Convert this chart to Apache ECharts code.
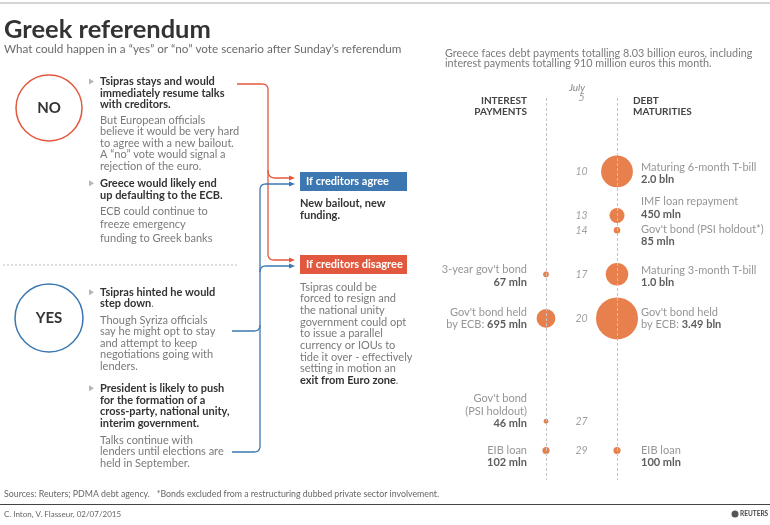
<!DOCTYPE html>
<html><head><meta charset="utf-8">
<script src="https://cdn.jsdelivr.net/npm/echarts@6/dist/echarts.min.js"></script>
<style>html,body{margin:0;padding:0;background:#fff}#c{width:770px;height:525px}</style>
</head><body><div id="c"></div>
<script>
// ---- data ----
const dayTicks = [5, 10, 13, 14, 17, 20, 27, 29];
const interestDays = [17, 20, 27, 29];
const interestValues = [67, 695, 46, 102]; // million euros
const interestDesc = ["3-year gov't bond", "Gov't bond held", "Gov't bond\n(PSI holdout)", "EIB loan"];
const interestPrefix = ["", "by ECB: ", "", ""];
const interestAmount = ["67 mln", "695 mln", "46 mln", "102 mln"];
const maturityDays = [10, 13, 14, 17, 20, 29];
const maturityValues = [2000, 450, 85, 1000, 3490, 100]; // million euros
const maturityDesc = ["Maturing 6-month T-bill", "IMF loan repayment", "Gov't bond (PSI holdout*)", "Maturing 3-month T-bill", "Gov't bond held", "EIB loan"];
const maturityPrefix = ["", "", "", "", "by ECB: ", ""];
const maturityAmount = ["2.0 bln", "450 mln", "85 mln", "1.0 bln", "3.49 bln", "100 mln"];

// ---- layout / style ----
const F = 'Lato';
const DARK = '#333', GREY = '#7a7a7a', RED = '#e2583e', BLUE = '#3c77b1', BUB = '#e8804e';
const interestDy = [1.5, 0, -10, 6];
const maturityDy = [2, -7.5, 5, 2, 0, 6];
const maxV = Math.max(...maturityValues, ...interestValues);
const sizeOf = v => 42 * Math.sqrt(v / maxV);

const G = [];
function txt(x, y, s, o) {
  o = o || {};
  G.push({type: 'text', x: x, y: y, silent: true,
    style: {text: s, fill: o.fill || GREY, font: (o.w || 'normal') + ' ' + (o.size || 11) + 'px ' + F,
      align: o.align || 'left', verticalAlign: 'middle', rich: o.rich}});
}
function lines(x, y0, lh, arr, o) { arr.forEach((s, i) => txt(x, y0 + i * lh, s, o)); }
function bullet(y) { G.push({type: 'polygon', silent: true, shape: {points: [[89, y - 3], [94, y], [89, y + 3]]}, style: {fill: '#b5b5b5'}}); }
const richB = {b: {font: 'bold 11px ' + F, fill: DARK}, n: {font: 'normal 11px ' + F, fill: DARK}, g: {font: 'normal 11px ' + F, fill: GREY}};
// polyline with rounded corners: cmds = [[x,y], ['Q',cx,cy,x,y], ...]
function curve(cmds, color) {
  const pts = [];
  let cur = null;
  cmds.forEach(c => {
    if (c[0] === 'Q') {
      for (let t = 0.125; t <= 1.0001; t += 0.125) {
        const a = (1 - t) * (1 - t), b = 2 * (1 - t) * t, d = t * t;
        pts.push([a * cur[0] + b * c[1] + d * c[3], a * cur[1] + b * c[2] + d * c[4]]);
      }
      cur = [c[3], c[4]];
    } else { pts.push(c); cur = c; }
  });
  G.push({type: 'polyline', silent: true, shape: {points: pts}, style: {stroke: color, lineWidth: 1.3, fill: null}});
}

// header
G.push({type: 'line', silent: true, shape: {x1: 0, y1: 3, x2: 770, y2: 3}, style: {stroke: '#aaa', lineWidth: 1}});
txt(4, 30, 'Greek referendum', {w: 'bold', size: 25.5, fill: DARK});
txt(4, 49.5, 'What could happen in a \u201cyes\u201d or \u201cno\u201d vote scenario after Sunday\u2019s referendum', {size: 11.7, fill: '#6a6a6a'});
lines(445, 53.5, 10.2, ['Greece faces debt payments totalling 8.03 billion euros, including', 'interest payments totalling 910 million euros this month.'], {size: 10.8, fill: '#7a7a7a'});
lines(527, 101, 11, ['INTEREST', 'PAYMENTS'], {w: 'bold', size: 10, fill: '#444', align: 'right'});
lines(633, 101, 11, ['DEBT', 'MATURITIES'], {w: 'bold', size: 10, fill: '#444'});
txt(577, 88, 'July', {w: 'italic', size: 10, fill: '#888', align: 'center'});

// NO / YES circles
G.push({type: 'circle', silent: true, shape: {cx: 49, cy: 108, r: 33}, style: {fill: '#fff', stroke: RED, lineWidth: 1.5}});
txt(49, 108, 'NO', {w: 'bold', size: 15, fill: DARK, align: 'center'});
G.push({type: 'circle', silent: true, shape: {cx: 49, cy: 318, r: 34}, style: {fill: '#fff', stroke: BLUE, lineWidth: 1.5}});
txt(49, 318, 'YES', {w: 'bold', size: 15, fill: DARK, align: 'center'});

// NO text
bullet(81.5);
lines(100, 81.5, 11.6, ['Tsipras stays and would', 'immediately resume talks', 'with creditors.'], {w: 'bold', fill: DARK});
lines(100, 120, 11.5, ['But European officials', 'believe it would be very hard', 'to agree with a new bailout.', 'A \u201cno\u201d vote would signal a', 'rejection of the euro.']);
bullet(183.3);
lines(100, 183.3, 11.7, ['Greece would likely end', 'up defaulting to the ECB.'], {w: 'bold', fill: DARK});
lines(100, 211.7, 13.2, ['ECB could continue to', 'freeze emergency', 'funding to Greek banks']);
G.push({type: 'line', silent: true, shape: {x1: 3, y1: 265, x2: 237, y2: 265}, style: {stroke: '#bbb', lineWidth: 1, lineDash: [2, 2]}});

// YES text
bullet(292.3);
txt(100, 292.3, 'Tsipras hinted he would', {w: 'bold', fill: DARK});
txt(100, 303.5, '{b|step down}{g|.}', {rich: richB});
lines(100, 320, 11.6, ['Though Syriza officials', 'say he might opt to stay', 'and attempt to keep', 'negotiations going with', 'lenders.']);
bullet(388.3);
lines(100, 388.3, 11.7, ['President is likely to push', 'for the formation of a', 'cross-party, national unity,', 'interim government.'], {w: 'bold', fill: DARK});
lines(100, 440, 11.7, ['Talks continue with', 'lenders until elections are', 'held in September.']);

// connectors
curve([[237, 84], [262, 84], ['Q', 268, 84, 268, 90], [268, 254], ['Q', 268, 260, 274, 260], [291, 260]], RED);
curve([[268, 170], ['Q', 268, 178, 275, 178], [291, 178]], RED);
curve([[232, 452], [254, 452], ['Q', 260, 452, 260, 446], [260, 190], ['Q', 260, 184, 266, 184], [291, 184]], BLUE);
curve([[260, 272], ['Q', 260, 266, 266, 266], [291, 266]], BLUE);
curve([[232, 331], [254, 331], ['Q', 260, 331, 260, 325]], BLUE);
function arrow(y, c) { G.push({type: 'polygon', silent: true, shape: {points: [[289, y - 2.5], [295, y], [289, y + 2.5]]}, style: {fill: c}}); }
arrow(178, RED); arrow(260, RED); arrow(184, BLUE); arrow(266, BLUE);

// boxes
G.push({type: 'rect', silent: true, shape: {x: 300, y: 172, width: 107, height: 19}, style: {fill: BLUE}});
txt(306, 181.5, 'If creditors agree', {w: 'bold', fill: '#fff'});
G.push({type: 'rect', silent: true, shape: {x: 300, y: 255, width: 107, height: 19}, style: {fill: RED}});
txt(306, 264.5, 'If creditors disagree', {w: 'bold', fill: '#fff'});
lines(300, 203.3, 11.7, ['New bailout, new', 'funding.'], {w: 'bold', fill: DARK});
lines(300, 287.3, 11.65, ['Tsipras could be', 'forced to resign and', 'the national unity', 'government could opt', 'to issue a parallel', 'currency or IOUs to', 'tide it over - effectively', 'setting in motion an']);
txt(300, 380.5, '{b|exit from Euro zone}{g|.}', {rich: richB});

// footer
txt(4, 494, 'Sources: Reuters; PDMA debt agency.   *Bonds excluded from a restructuring dubbed private sector involvement.', {size: 8.8, fill: '#666'});
G.push({type: 'line', silent: true, shape: {x1: 0, y1: 504.5, x2: 770, y2: 504.5}, style: {stroke: '#444', lineWidth: 1.2}});
txt(4, 514, 'C. Inton, V. Flasseur, 02/07/2015', {size: 8, fill: '#666'});
G.push({type: 'circle', silent: true, shape: {cx: 735, cy: 514, r: 3.5}, style: {fill: '#555'}});
txt(740, 514, 'REUTERS', {w: 'bold', size: 6.5, fill: '#444'});

// ---- chart ----
function richLabel(desc, prefix, amount) {
  const d = desc.split('\n').map(s => '{n|' + s + '}').join('\n');
  return d + '\n' + (prefix ? '{n|' + prefix + '}' : '') + '{b|' + amount + '}';
}
const labRich = {n: {fontFamily: F, fontSize: 11, color: GREY, lineHeight: 12.5}, b: {fontFamily: F, fontSize: 11, fontWeight: 'bold', color: DARK, lineHeight: 12.5}};

const option = {
  backgroundColor: '#fff',
  animation: false,
  grid: {left: 510.5, width: 142, top: 98, height: 382},
  xAxis: {type: 'value', min: 0.5, max: 2.5, show: false},
  yAxis: {type: 'value', min: 5, max: 31, inverse: true, show: false},
  graphic: G,
  series: [
    {type: 'scatter', silent: true, z: 1, symbolSize: 0,
      data: dayTicks.map(d => [1.5, d]),
      label: {show: true, position: 'inside', formatter: p => String(p.value[1]), fontFamily: F, fontStyle: 'italic', fontSize: 10.5, color: '#888'},
      markLine: {silent: true, symbol: 'none', label: {show: false}, lineStyle: {color: '#c4c4c4', type: [3, 2], width: 1},
        data: [{xAxis: 1}, {xAxis: 2}]}},
    {type: 'scatter', name: 'Interest payments', silent: true, z: 3,
      data: interestDays.map((d, i) => [1, d, interestValues[i]]),
      symbolSize: v => sizeOf(v[2]), itemStyle: {color: BUB, opacity: 1}},
    {type: 'scatter', name: 'Debt maturities', silent: true, z: 3,
      data: maturityDays.map((d, i) => [2, d, maturityValues[i]]),
      symbolSize: v => sizeOf(v[2]), itemStyle: {color: BUB, opacity: 1}},
    {type: 'scatter', silent: true, z: 4, symbolSize: 0,
      data: interestDays.map((d, i) => ({value: [1, d],
        label: {show: true, position: 'left', distance: 19, align: 'right', offset: [0, interestDy[i]], formatter: richLabel(interestDesc[i], interestPrefix[i], interestAmount[i]), rich: labRich}}))},
    {type: 'scatter', silent: true, z: 4, symbolSize: 0,
      data: maturityDays.map((d, i) => ({value: [2, d],
        label: {show: true, position: 'right', distance: 24, align: 'left', offset: [0, maturityDy[i]], formatter: richLabel(maturityDesc[i], maturityPrefix[i], maturityAmount[i]), rich: labRich}}))}
  ]
};
const chart = echarts.init(document.getElementById('c'), null, {renderer: 'canvas'});
chart.setOption(option);
</script></body></html>
